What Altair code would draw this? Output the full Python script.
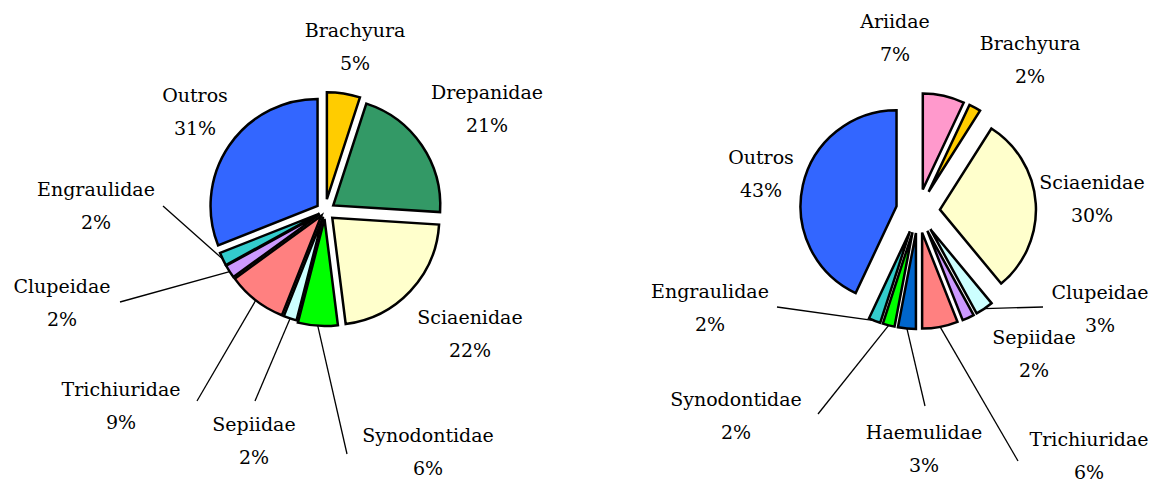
import altair as alt
import pandas as pd

# ---------------- data ----------------
L_CATS = ["Brachyura", "Drepanidae", "Sciaenidae", "Synodontidae", "Sepiidae",
          "Trichiuridae", "Clupeidae", "Engraulidae", "Outros"]
L_VALS = [5, 21, 22, 6, 2, 9, 2, 2, 31]

R_CATS = ["Ariidae", "Brachyura", "Sciaenidae", "Clupeidae", "Sepiidae",
          "Trichiuridae", "Haemulidae", "Synodontidae", "Engraulidae", "Outros"]
R_VALS = [7, 2, 30, 3, 2, 6, 3, 2, 2, 43]

# ---------------- style / layout ----------------
L_COLORS = ["#FFCC00", "#339966", "#FFFFCC", "#00FF00", "#CCFFFF",
            "#FF8080", "#CC99FF", "#33CCCC", "#3366FF"]
R_COLORS = ["#FF99CC", "#FFCC00", "#FFFFCC", "#CCFFFF", "#CC99FF",
            "#FF8080", "#0066CC", "#00FF00", "#33CCCC", "#3366FF"]
L_EXPLODE = [12, 10, 10, 8, 6, 6, 6, 6, 9]
R_EXPLODE = [22, 22, 22, 22, 22, 22, 22, 22, 22, 22]
PIE_GEOM = {"L": (317, 203, 107), "R": (910, 203, 96)}  # centre x, centre y, radius

# label block centres, relative to pie centre
L_LABEL = [(30, -164), (162, -102), (145, 123), (103, 241), (-71, 230),
           (-204, 195), (-263, 92), (-229, -5), (-130, -99)]
R_LABEL = [(-23, -173), (112, -151), (174, -12), (182, 98), (116, 143),
           (171, 245), (6, 238), (-182, 205), (-208, 97), (-157, -37)]
# leader line end points, relative to pie centre (None = no leader)
L_LEADER = [None, None, None, (22, 243), (-70, 190), (-128, 190),
            (-205, 91), (-162, -5), None]
R_LEADER = [None, None, None, (125, 96), None, (100, 250), (7, 195),
            (-100, 203), (-141, 96), None]

FONT = "DejaVu Serif"
FS = 19

rows = []
for pie, cats, vals, cols, exps, labs, leads in [
    ("L", L_CATS, L_VALS, L_COLORS, L_EXPLODE, L_LABEL, L_LEADER),
    ("R", R_CATS, R_VALS, R_COLORS, R_EXPLODE, R_LABEL, R_LEADER),
]:
    cx, cy, r = PIE_GEOM[pie]
    for i, (c, v, col, e, lab, ld) in enumerate(zip(cats, vals, cols, exps, labs, leads)):
        rows.append({
            "pie": pie, "idx": i, "cat": c, "value": v, "key": f"{pie}-{c}",
            "color": col, "explode": e, "cx0": cx, "cy0": cy, "r": r,
            "ldx": lab[0], "ldy": lab[1],
            "lead": ld is not None,
            "edx": ld[0] if ld else 0, "edy": ld[1] if ld else 0,
        })
df = pd.DataFrame(rows)

keys = list(df["key"])
colors = list(df["color"])

base = (
    alt.Chart(df)
    .transform_stack(stack="value", groupby=["pie"], as_=["s0", "s1"],
                     offset="normalize",
                     sort=[alt.SortField(field="idx", order="ascending")])
    .transform_calculate(a0="2*PI*datum.s0")
    .transform_calculate(a1="2*PI*datum.s1")
    .transform_calculate(am="(datum.a0+datum.a1)/2")
    .transform_calculate(px="datum.cx0 + datum.explode*sin(datum.am)")
    .transform_calculate(py="datum.cy0 - datum.explode*cos(datum.am)")
    .transform_calculate(sx="datum.px + datum.r*sin(datum.am)")
    .transform_calculate(sy="datum.py - datum.r*cos(datum.am)")
    .transform_calculate(lx="datum.cx0 + datum.ldx")
    .transform_calculate(ly="datum.cy0 + datum.ldy")
    .transform_calculate(ex="datum.cx0 + datum.edx")
    .transform_calculate(ey="datum.cy0 + datum.edy")
    .transform_calculate(pct="format(datum.value, 'd') + '%'")
)

leaders = base.transform_filter("datum.lead").mark_rule(
    color="black", strokeWidth=1.3
).encode(
    x=alt.X("sx:Q", scale=None, axis=None),
    y=alt.Y("sy:Q", scale=None, axis=None),
    x2="ex:Q",
    y2="ey:Q",
)

arcs = base.mark_arc(stroke="black", strokeWidth=2.5).encode(
    x=alt.X("px:Q", scale=None, axis=None),
    y=alt.Y("py:Q", scale=None, axis=None),
    theta=alt.Theta("a0:Q", scale=None),
    theta2=alt.Theta2("a1:Q"),
    radius=alt.Radius("r:Q", scale=None),
    color=alt.Color("key:N", scale=alt.Scale(domain=keys, range=colors), legend=None),
)

names = base.mark_text(font=FONT, fontSize=FS, color="black", dy=-16,
                       align="center", baseline="middle").encode(
    x=alt.X("lx:Q", scale=None, axis=None),
    y=alt.Y("ly:Q", scale=None, axis=None),
    text="cat:N",
)

pcts = base.mark_text(font=FONT, fontSize=FS, color="black", dy=17,
                      align="center", baseline="middle").encode(
    x=alt.X("lx:Q", scale=None, axis=None),
    y=alt.Y("ly:Q", scale=None, axis=None),
    text="pct:N",
)

chart = alt.layer(leaders, arcs, names, pcts).properties(
    width=1141, height=468, padding=0, background="white"
).configure_view(stroke=None)

chart.save("out.html", embed_options={"renderer": "svg", "actions": False})
